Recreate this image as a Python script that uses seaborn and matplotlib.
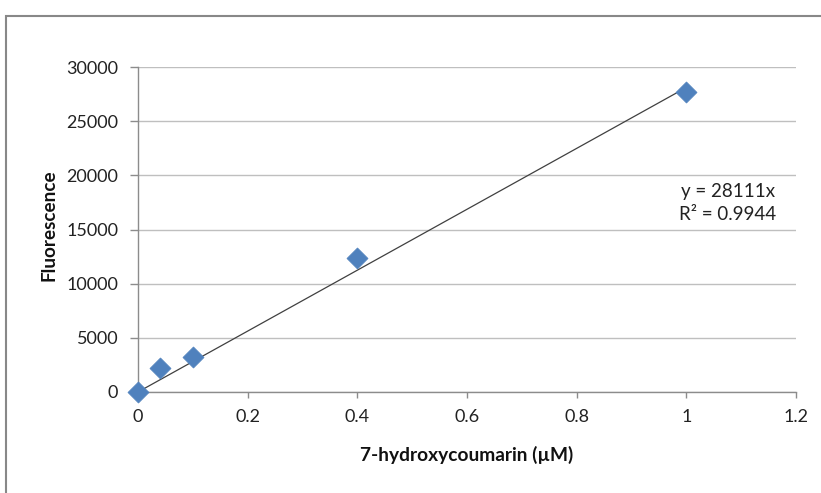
import matplotlib
matplotlib.use("Agg")
import matplotlib.pyplot as plt
import matplotlib.patches as mpatches
import numpy as np
import pandas as pd
import seaborn as sns

# Calibration data
concentration = [0.0, 0.04, 0.1, 0.4, 1.0]
fluorescence = [0, 2200, 3200, 12400, 27700]
slope = 28111
r_squared = 0.9944

x_ticks = [0, 0.2, 0.4, 0.6, 0.8, 1, 1.2]
x_tick_labels = ["0", "0.2", "0.4", "0.6", "0.8", "1", "1.2"]
y_ticks = [0, 5000, 10000, 15000, 20000, 25000, 30000]

sns.set_theme(style="white")
plt.rcParams["font.family"] = ["Lato", "DejaVu Sans"]

df = pd.DataFrame({"conc": concentration, "fluor": fluorescence})

fig = plt.figure(figsize=(8.21, 4.93), dpi=100)
ax = fig.add_axes([138 / 821, 101 / 493, 658 / 821, 325 / 493])

# Linear fit through the origin
fit_x = np.array([0.0, 1.0])
fit_df = pd.DataFrame({"conc": fit_x, "fluor": slope * fit_x})
sns.lineplot(data=fit_df, x="conc", y="fluor", ax=ax, color="#404040",
             linewidth=0.9, zorder=2)

sns.scatterplot(data=df, x="conc", y="fluor", ax=ax, marker="D", s=115,
                color="#4F81BD", edgecolor="#4F81BD", linewidth=0.5, zorder=3)
for coll in ax.collections:
    coll.set_clip_on(False)

ax.set_xlim(0, 1.2)
ax.set_ylim(0, 30000)
ax.set_xticks(x_ticks)
ax.set_xticklabels(x_tick_labels)
ax.set_yticks(y_ticks)
ax.set_yticklabels([str(v) for v in y_ticks])

ax.yaxis.grid(True, color="#BFBFBF", linewidth=1.0)
ax.xaxis.grid(False)
ax.set_axisbelow(True)

for side in ["top", "right"]:
    ax.spines[side].set_visible(False)
for side in ["left", "bottom"]:
    ax.spines[side].set_color("#8C8C8C")
    ax.spines[side].set_linewidth(1.0)

ax.tick_params(axis="both", which="both", direction="out", width=1.0,
               color="#8C8C8C", labelsize=13, labelcolor="#222222")
ax.tick_params(axis="x", length=4.3, pad=8)
ax.tick_params(axis="y", length=5.8, pad=8.5)
ax.xaxis.set_ticks_position("bottom")
ax.yaxis.set_ticks_position("left")

ax.set_xlabel("7-hydroxycoumarin (µM)", fontsize=13.8, fontweight="bold",
              color="#111111", va="center", ha="center")
ax.xaxis.set_label_coords(0.5, -0.194)
ax.set_ylabel("Fluorescence", fontsize=13.6, fontweight="bold",
              color="#111111", va="center", ha="center")
ax.yaxis.set_label_coords(-0.136, 0.514)

fig.text(681 / 821, 1 - 192 / 493, f"y = {slope}x", fontsize=13.5,
         color="#222222", ha="left", va="center")
fig.text(679 / 821, 1 - 215 / 493, f"R² = {r_squared}", fontsize=13.5,
         color="#222222", ha="left", va="center")

# Chart frame
frame = mpatches.Rectangle((5.5 / 821, -0.1), 1.2, 1.1 - 16.5 / 493,
                           transform=fig.transFigure, fill=False,
                           edgecolor="#888888", linewidth=1.5, clip_on=False)
fig.patches.append(frame)

fig.savefig("out.png", dpi=100)
